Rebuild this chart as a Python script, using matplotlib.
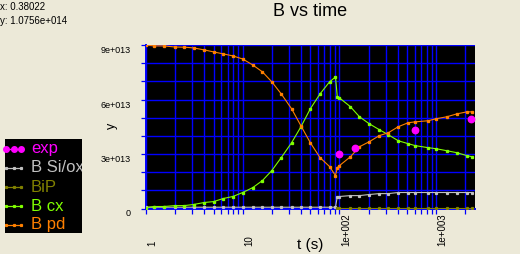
import numpy as np
import matplotlib
matplotlib.use("Agg")
import matplotlib.pyplot as plt
from matplotlib.transforms import ScaledTranslation, blended_transform_factory
from matplotlib.ticker import LogLocator, NullFormatter

# ---------------- data ----------------
t = [1.0, 1.21, 1.53, 2.0, 2.5, 3.1, 4.0, 5.0, 6.3, 7.9, 10, 12.7, 16, 20, 25, 32, 40, 50, 63, 79, 91,
     95, 100, 130, 161, 204, 258, 320, 405, 512, 608, 823, 1000, 1290, 1640, 2080, 2350]
b_pd = [9.0, 8.95, 8.95, 8.89, 8.88, 8.84, 8.73, 8.62, 8.51, 8.40, 8.23, 7.90, 7.52, 6.97, 6.31, 5.49,
        4.55, 3.62, 2.80, 2.31, 1.81,
        2.25, 2.36, 2.85, 3.40, 3.68, 4.01, 4.17, 4.50, 4.72, 4.77, 4.83, 4.94, 5.05, 5.21, 5.32, 5.32]
b_cx = [0.05, 0.11, 0.11, 0.16, 0.16, 0.22, 0.33, 0.38, 0.55, 0.66, 0.88, 1.15, 1.54, 2.09, 2.80, 3.62,
        4.50, 5.49, 6.31, 6.97, 7.24,
        6.15, 6.09, 5.60, 5.05, 4.66, 4.34, 4.06, 3.73, 3.57, 3.46, 3.35, 3.29, 3.18, 3.07, 2.91, 2.85]
b_siox = [0.07] * 21 + [0.66, 0.66, 0.71, 0.71, 0.77, 0.82, 0.82, 0.88, 0.88, 0.88, 0.88, 0.88, 0.88,
                        0.88, 0.88, 0.88]
b_ip = [np.nan] * 21 + [0.03] * 16
exp_t = [100, 146, 608, 2300]
exp_v = [3.02, 3.35, 4.34, 4.94]
scale = 1e13

ytick_vals = [i * 1e13 for i in range(10)]
ytick_labels = ['0', '', '', '3e+013', '', '', '6e+013', '', '', '9e+013']
xlab_pos = [1, 10, 100, 1000]
xlab_text = ['1', '10', '1e+002', '1e+003']

# ---------------- style ----------------
BG = '#ECE9D8'
BLUE = '#0000FF'
C_EXP = '#FF00FF'
C_SIOX = '#C0C0C0'
C_BIP = '#808000'
C_CX = '#80FF00'
C_PD = '#FF8000'
FONT = 'Liberation Sans'

W, H = 520, 254
fig = plt.figure(figsize=(W / 100, H / 100), dpi=100, facecolor=BG)
ax = fig.add_axes([146 / W, (H - 208.5) / H, (475 - 146) / W, (208.5 - 45) / H], facecolor='black')

ax.set_xscale('log')
ax.set_xlim(1, 2520)
ax.set_ylim(0, 9e13)

tt = np.array(t, dtype=float)
ax.plot(tt, np.array(b_siox) * scale, color=C_SIOX, lw=0.8, marker='s', ms=1.3, zorder=3)
ax.plot(tt, np.array(b_ip) * scale, color=C_BIP, lw=0.8, marker='s', ms=1.3, zorder=3)
ax.plot(tt, np.array(b_cx) * scale, color=C_CX, lw=0.8, marker='s', ms=1.4, zorder=3)
ax.plot(tt, np.array(b_pd) * scale, color=C_PD, lw=0.8, marker='s', ms=1.4, zorder=3)
ax.plot(exp_t, np.array(exp_v) * scale, linestyle='none', marker='o', ms=4.6, color=C_EXP, zorder=4)

# grid / ticks
ax.xaxis.set_major_locator(LogLocator(base=10, numticks=10))
ax.xaxis.set_minor_locator(LogLocator(base=10, subs=np.arange(2, 10), numticks=20))
ax.xaxis.set_major_formatter(NullFormatter())
ax.xaxis.set_minor_formatter(NullFormatter())
ax.set_yticks(ytick_vals)
ax.set_yticklabels(ytick_labels)
ax.set_axisbelow(True)
ax.grid(True, which='both', axis='x', color=BLUE, lw=1.0, snap=True)
ax.grid(True, which='major', axis='y', color=BLUE, lw=1.0, snap=True)
ax.tick_params(axis='x', which='both', direction='out', length=3.5, width=0.9, color=BLUE)
ax.tick_params(axis='y', which='both', direction='out', length=3.8, width=0.9, color=BLUE,
               pad=7.5, labelsize=6.5, labelcolor='black')
for lab in ax.get_yticklabels():
    lab.set_fontfamily(FONT)
    lab.set_verticalalignment('center')
    lab.set_transform(lab.get_transform() + ScaledTranslation(0, -5.5 / 100, fig.dpi_scale_trans))

for s in ['top', 'right']:
    ax.spines[s].set_visible(False)
for s in ['left', 'bottom']:
    ax.spines[s].set_color(BLUE)
    ax.spines[s].set_linewidth(1.4)

# x tick labels (rotated, bottom aligned)
trans = blended_transform_factory(ax.transData, fig.transFigure) + \
    ScaledTranslation(6.5 / 100, 0, fig.dpi_scale_trans)
for xp, txt in zip(xlab_pos, xlab_text):
    fig.text(xp, (H - 246) / H, txt, transform=trans, rotation=90, ha='center', va='bottom',
             fontsize=7.0, family=FONT, color='black')

# labels and title
fig.text(310 / W, 1 - 245.5 / H, 't (s)', ha='center', va='center', fontsize=11, family=FONT)
fig.text(112 / W, 1 - 126 / H, 'y', ha='center', va='center', rotation=90, fontsize=9, family=FONT)
fig.text(310 / W, 1 - 11 / H, 'B vs time', ha='center', va='center', fontsize=13, family=FONT)
fig.text(0 / W, 1 - 6.5 / H, 'x: 0.38022', ha='left', va='center', fontsize=7, family=FONT)
fig.text(0 / W, 1 - 21.5 / H, 'y: 1.0756e+014', ha='left', va='center', fontsize=7, family=FONT)

# legend box
lx0, lx1, ly0, ly1 = 5, 82, 139, 233
lax = fig.add_axes([lx0 / W, (H - ly1) / H, (lx1 - lx0) / W, (ly1 - ly0) / H], facecolor='black')
lax.set_xlim(lx0, lx1)
lax.set_ylim(ly1, ly0)
lax.set_xticks([])
lax.set_yticks([])
for s in lax.spines.values():
    s.set_visible(False)
leg_names = ['exp', 'B Si/ox', 'BiP', 'B cx', 'B pd']
leg_colors = [C_EXP, C_SIOX, C_BIP, C_CX, C_PD]
leg_rows = [149, 168, 187, 206, 224.5]
for i, (name, col, yy) in enumerate(zip(leg_names, leg_colors, leg_rows)):
    if i == 0:
        lax.plot([6.5, 13.5, 20.5], [yy, yy, yy], linestyle='none', marker='o', ms=4.0, color=col,
                 clip_on=False)
        lax.plot([5, 22], [yy, yy], color=col, lw=1.0)
    else:
        lax.plot([6, 13.5, 21], [yy, yy, yy], color=col, lw=0.9, marker='s', ms=1.3)
    lax.text(31, yy, name, color=col, fontsize=12, family=FONT, ha='left', va='center', clip_on=True)

fig.savefig('out.png', dpi=100, facecolor=BG)
